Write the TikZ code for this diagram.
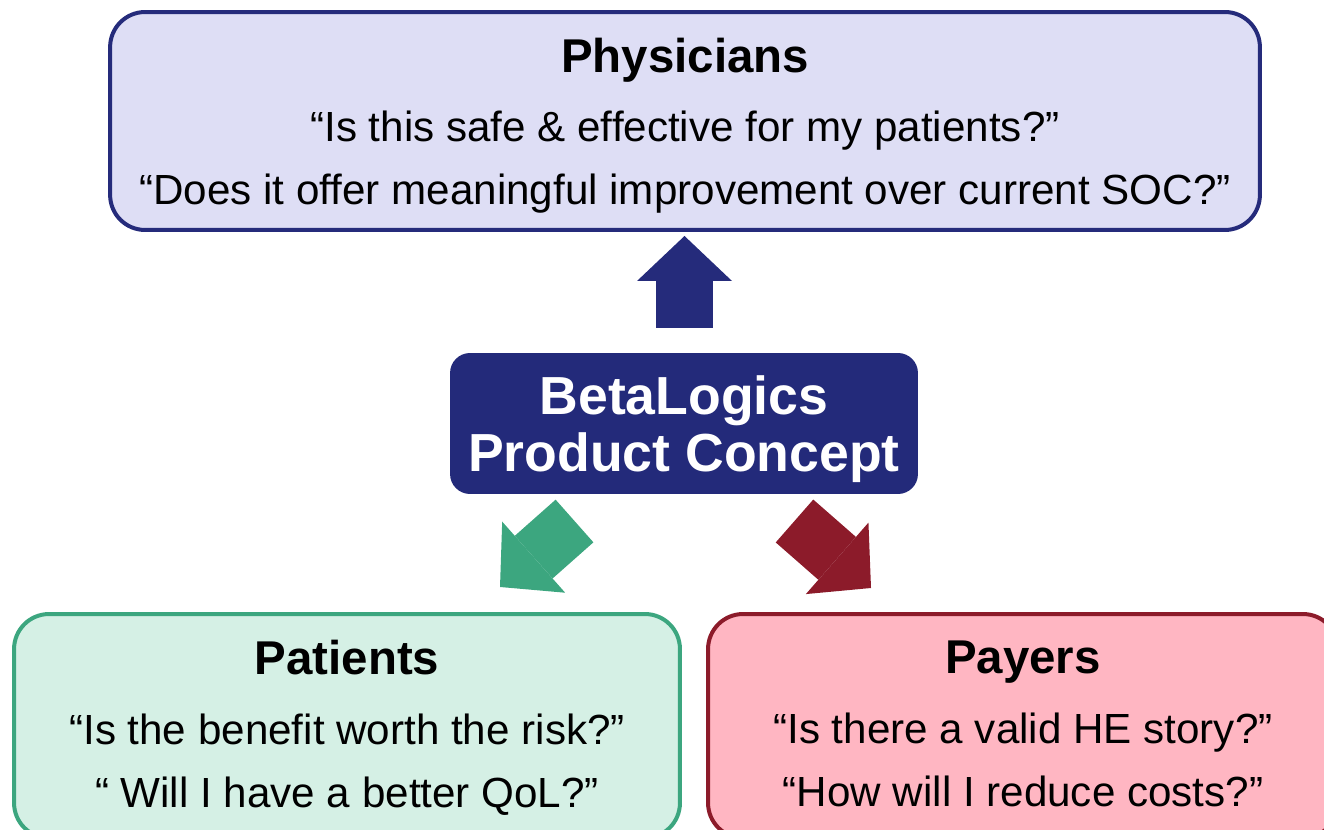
\documentclass[tikz,border=0pt]{standalone}
\usepackage{fontspec}
\setmainfont{Liberation Sans}
\usetikzlibrary{arrows.meta}

\definecolor{physfill}{HTML}{DEDEF5}
\definecolor{physline}{HTML}{252B7B}
\definecolor{conceptfill}{HTML}{232A7A}
\definecolor{patfill}{HTML}{D5F0E5}
\definecolor{patline}{HTML}{3CA67F}
\definecolor{payfill}{HTML}{FFB6C2}
\definecolor{payline}{HTML}{8C1B2A}

\newcommand{\boxhead}[1]{{\fontsize{27}{36}\selectfont\bfseries #1}}

\begin{document}
\begin{tikzpicture}[x=0.02cm, y=-0.02cm,
  main/.style = {draw, rounded corners=0.7cm, line width=0.08cm, inner sep=0pt},
  boxtext/.style = {align=center, inner sep=0pt, font=\fontsize{24}{36}\selectfont},
  bigarrow/.style = {line width=1.14cm, -{Triangle[width=1.9cm, length=0.9cm, line width=0pt]}}]
  \useasboundingbox (0,0) rectangle (1324,830);

  % boxes
  \node[main, draw=physline, fill=physfill, minimum width=23cm, minimum height=4.36cm] (n_phys) at (685,121) {};
  \node[main, draw=none, fill=conceptfill, rounded corners=0.4cm, minimum width=9.36cm, minimum height=2.82cm] (n_concept) at (684,423.5) {};
  \node[main, draw=patline, fill=patfill, minimum width=13.32cm, minimum height=4.48cm] (n_pat) at (347,726) {};
  \node[main, draw=payline, fill=payfill, minimum width=12.6cm, minimum height=4.48cm] (n_pay) at (1023,726) {};

  % texts
  \node[boxtext] (t_phys) at ([yshift=-0.1cm]n_phys.center)
    {\boxhead{Physicians}\\[3pt]
     “Is this safe \& effective for my patients?”\\
     “Does it offer meaningful improvement over current SOC?”};
  \node[boxtext, text=white, font=\fontsize{30.5}{32.5}\selectfont\bfseries] (t_concept) at ([yshift=-0.12cm]n_concept.center)
    {BetaLogics\\Product Concept};
  \node[boxtext] (t_pat) at ([yshift=-0.04cm]n_pat.center)
    {\boxhead{Patients}\\[3.5pt]
     “Is the benefit worth the risk?”\\
     “ Will I have a better QoL?”};
  \node[boxtext] (t_pay) at ([yshift=0.04cm]n_pay.center)
    {\boxhead{Payers}\\[3.5pt]
     “Is there a valid HE story?”\\
     “How will I reduce costs?”};

  % block arrows out of the concept box
  \coordinate (up_s) at (684.5,328);
  \coordinate (up_t) at (684.5,236);
  \coordinate (gr_s) at (574.5,521);
  \coordinate (gr_t) at (500,587);
  \coordinate (rd_s) at (794.5,521);
  \coordinate (rd_t) at (871,588);
  \draw[bigarrow, physline] (up_s) -- (up_t);
  \draw[bigarrow, patline] (gr_s) -- (gr_t);
  \draw[bigarrow, payline] (rd_s) -- (rd_t);
\end{tikzpicture}
\end{document}
